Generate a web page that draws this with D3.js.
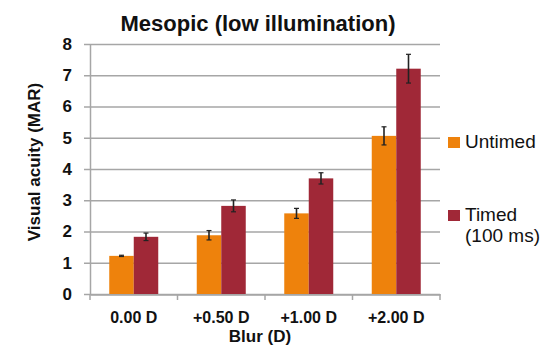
<!DOCTYPE html>
<html>
<head>
<meta charset="utf-8">
<script src="https://cdn.jsdelivr.net/npm/d3@7"></script>
<style>
  body { margin: 0; background: #fff; }
  text { font-family: "Liberation Sans", Arial, sans-serif; }
</style>
</head>
<body>
<div id="chart"></div>
<script>
const blurLevels = ["0.00 D", "+0.50 D", "+1.00 D", "+2.00 D"];
const seriesNames = ["Untimed", "Timed"];
const untimedValues = [1.22, 1.88, 2.58, 5.06];
const timedValues = [1.83, 2.82, 3.70, 7.21];
const untimedErrors = [0.02, 0.15, 0.16, 0.29];
const timedErrors = [0.12, 0.19, 0.18, 0.46];
const yTicks = [0, 1, 2, 3, 4, 5, 6, 7, 8];

const colors = { Untimed: "#EE820C", Timed: "#A02837" };

const wSvg = 542, hSvg = 347;
const padLeft = 90, padRight = 440, padTop = 44, padBottom = 294;

const svg = d3.select("#chart").append("svg")
  .attr("width", wSvg)
  .attr("height", hSvg);

// one row per bar
const rows = [];
for (let i = 0; i < blurLevels.length; i++) {
  rows.push({ cat: blurLevels[i], series: "Untimed", value: untimedValues[i], err: untimedErrors[i] });
  rows.push({ cat: blurLevels[i], series: "Timed", value: timedValues[i], err: timedErrors[i] });
}

const xScale = d3.scaleBand(blurLevels, [padLeft, padRight])
  .paddingInner(0.44)
  .paddingOuter(0.22);
const xInner = d3.scaleBand(seriesNames, [0, xScale.bandwidth()]);
const yScale = d3.scaleLinear([0, 8], [padBottom, padTop]);

// gridlines
svg.append("g")
  .selectAll("line")
  .data(yTicks)
  .enter()
  .append("line")
  .attr("x1", padLeft - 6)
  .attr("x2", padRight)
  .attr("y1", d => yScale(d) + 0.5)
  .attr("y2", d => yScale(d) + 0.5)
  .attr("stroke", "#A6A6A6")
  .attr("stroke-width", 1.5);

// bars
svg.append("g")
  .selectAll("rect")
  .data(rows)
  .enter()
  .append("rect")
  .attr("x", d => xScale(d.cat) + xInner(d.series))
  .attr("y", d => yScale(d.value))
  .attr("width", xInner.bandwidth())
  .attr("height", d => yScale(0) - yScale(d.value))
  .attr("fill", d => colors[d.series]);

// error bars
const errG = svg.append("g")
  .selectAll("g")
  .data(rows)
  .enter()
  .append("g")
  .attr("transform", d => `translate(${xScale(d.cat) + xInner(d.series) + xInner.bandwidth() / 2}, 0)`);

errG.append("line")
  .attr("y1", d => yScale(d.value + d.err))
  .attr("y2", d => yScale(d.value - d.err))
  .attr("stroke", "#222")
  .attr("stroke-width", 1.6);
errG.append("line")
  .attr("x1", -2.5).attr("x2", 2.5)
  .attr("y1", d => yScale(d.value + d.err))
  .attr("y2", d => yScale(d.value + d.err))
  .attr("stroke", "#222")
  .attr("stroke-width", 1.2);
errG.append("line")
  .attr("x1", -2.5).attr("x2", 2.5)
  .attr("y1", d => yScale(d.value - d.err))
  .attr("y2", d => yScale(d.value - d.err))
  .attr("stroke", "#222")
  .attr("stroke-width", 1.2);

// y axis
const yAxis = svg.append("g")
  .attr("transform", `translate(${padLeft}, 0)`)
  .call(d3.axisLeft(yScale).tickValues(yTicks).tickSize(0).tickPadding(18));
yAxis.select(".domain").attr("stroke", "#A6A6A6").attr("stroke-width", 1.5);
yAxis.selectAll("text")
  .attr("font-size", 17)
  .attr("font-weight", "bold")
  .attr("fill", "#111");

// x axis
const xAxis = svg.append("g")
  .attr("transform", `translate(0, ${padBottom + 0.5})`)
  .call(d3.axisBottom(xScale).tickSize(0).tickPadding(17));
xAxis.select(".domain").attr("stroke", "#A6A6A6").attr("stroke-width", 1.5);
xAxis.selectAll("text")
  .attr("font-size", 16)
  .attr("font-weight", "bold")
  .attr("fill", "#111");

// category boundary ticks
const bounds = [padLeft].concat(blurLevels.map(c => xScale(c) + xScale.bandwidth() + xScale.step() * xScale.paddingInner() / 2));
bounds[bounds.length - 1] = padRight;
svg.append("g")
  .selectAll("line")
  .data(bounds)
  .enter()
  .append("line")
  .attr("x1", d => d).attr("x2", d => d)
  .attr("y1", padBottom).attr("y2", padBottom + 6)
  .attr("stroke", "#A6A6A6")
  .attr("stroke-width", 1.5);

// title
svg.append("text")
  .attr("x", 258)
  .attr("y", 31)
  .attr("text-anchor", "middle")
  .attr("font-size", 22)
  .attr("font-weight", "bold")
  .attr("fill", "#111")
  .text("Mesopic (low illumination)");

// y label
svg.append("text")
  .attr("transform", "translate(40, 162) rotate(-90)")
  .attr("text-anchor", "middle")
  .attr("font-size", 17)
  .attr("font-weight", "bold")
  .attr("fill", "#111")
  .text("Visual acuity (MAR)");

// x label
svg.append("text")
  .attr("x", 260)
  .attr("y", 342)
  .attr("text-anchor", "middle")
  .attr("font-size", 17)
  .attr("font-weight", "bold")
  .attr("fill", "#111")
  .text("Blur (D)");

// legend
const legendItems = [
  { name: "Untimed", lines: ["Untimed"], y: 137 },
  { name: "Timed", lines: ["Timed", "(100 ms)"], y: 210 }
];
const lg = svg.append("g")
  .selectAll("g")
  .data(legendItems)
  .enter()
  .append("g");
lg.append("rect")
  .attr("x", 448)
  .attr("y", d => d.y)
  .attr("width", 12)
  .attr("height", 11)
  .attr("fill", d => colors[d.name]);
lg.each(function (d) {
  const t = d3.select(this).append("text")
    .attr("font-size", 19)
    .attr("fill", "#111");
  d.lines.forEach((line, i) => {
    t.append("tspan")
      .attr("x", 465)
      .attr("y", d.y + 11 + i * 21)
      .text(line);
  });
});
</script>
</body>
</html>
